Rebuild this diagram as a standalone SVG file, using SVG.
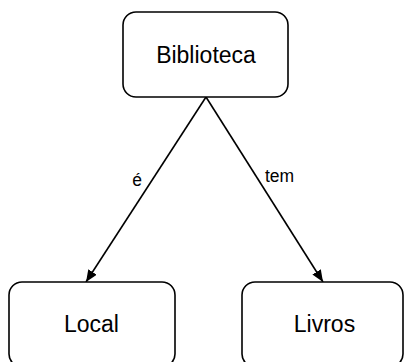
<svg xmlns="http://www.w3.org/2000/svg" width="404" height="362" viewBox="0 0 404 362">
<style>
.node rect{fill:#fff;stroke:#000;stroke-width:1.6}
.node text{font-family:"Liberation Sans",Arial,sans-serif;font-size:23px;fill:#000;text-anchor:middle}
.edges line{stroke:#000;stroke-width:1.6}
.lbl{font-family:"Liberation Sans",Arial,sans-serif;font-size:17.5px;fill:#000;text-anchor:middle}
</style>
<defs>
<marker id="arr" viewBox="0 0 12 10" refX="12" refY="5" markerWidth="12" markerHeight="10" markerUnits="userSpaceOnUse" orient="auto">
<path d="M0,0 L12,5 L0,10 Z" fill="#000"/>
</marker>
</defs>
<rect width="404" height="362" fill="#fff"/>
<g class="edges">
<line x1="206" y1="97" x2="86" y2="282" marker-end="url(#arr)"/>
<line x1="206" y1="97" x2="323" y2="282" marker-end="url(#arr)"/>
<text class="lbl" x="137" y="186">é</text>
<text class="lbl" x="279.5" y="182">tem</text>
</g>
<g id="biblioteca" class="node">
<rect x="123" y="12" width="165" height="85" rx="13"/>
<text x="206" y="63">Biblioteca</text>
</g>
<g id="local" class="node">
<rect x="9" y="282" width="166" height="85" rx="13"/>
<text x="91.5" y="332">Local</text>
</g>
<g id="livros" class="node">
<rect x="242" y="282" width="161" height="85" rx="13"/>
<text x="324.5" y="332">Livros</text>
</g>
</svg>
